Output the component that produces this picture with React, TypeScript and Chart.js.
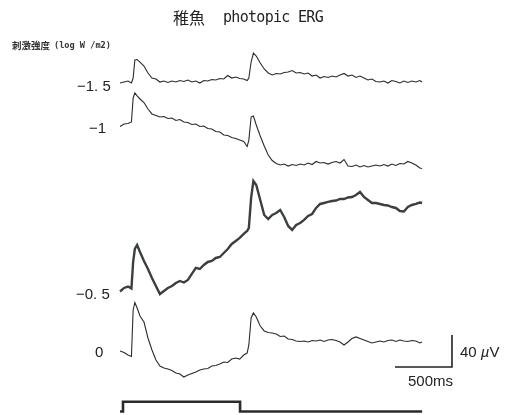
import React, { useEffect, useRef } from "react";
import { Chart, registerables } from "chart.js";

Chart.register(...registerables);

// time grid of the recordings (ms from start of sweep)
const TIME_MS = [
  0, 35, 70, 100, 115, 130, 150, 175, 210, 245,
  280, 315, 350, 385, 420, 455, 490, 525, 560, 595, 630, 665, 700, 735, 770, 805, 840, 875, 910, 945, 980, 1015, 1050, 1085,
  1115, 1130, 1150, 1170, 1195,
  1230, 1265, 1300, 1335, 1370, 1405, 1440, 1475, 1510, 1545, 1580, 1615, 1650, 1685, 1720, 1755, 1790, 1825, 1860, 1895, 1930,
  1965, 2000, 2035, 2070, 2105, 2140, 2175, 2210, 2245, 2280, 2315, 2350, 2385, 2420, 2455, 2490, 2525, 2560, 2595, 2630,
  2650,
];

// stimulus intensities (log W/m2)
const INTENSITY_LABELS = ["−1. 5", "−1", "−0. 5", "0"];

// responses in µV relative to each trace's pre-stimulus baseline
const TRACE_M15 = [
  -0.6, 0.6, 1.9, -0.6, 5.6, 28.1, 28.8, 25.6, 20.6, 11.9,
  5.6, 4.4, 0.6, 1.9, 0, 1.9, 0.6, 2.5, 1.3, 3.1, 0.6, 1.9, -0.6, 2.5, 1.9, 3.8, 3.1, 5, 4.4, 8.8, 5.6, 6.9, 5, 4.4,
  2.5, 5.6, 25.6, 36.9, 33.1,
  24.4, 16.9, 11.9, 9.4, 11.3, 10.6, 12.5, 13.1, 15, 11.9, 12.5, 10.6, 11.9, 8.1, 9.4, 5.6, 7.5, 6.3, 8.1, 6.9, 9.4,
  11.3, 8.1, 9.4, 6.3, 8.1, 5.6, 3.1, 4.4, 1.3, 0.6, 1.9, -0.6, 2.5, 1.3, -0.6, 1.9, 0, 1.9, 0.6, 2.5,
  0.6,
];

const TRACE_M10 = [
  -1.9, 1.3, 1.9, 3.8, 33.8, 40, 36.3, 32.5, 28.1, 20,
  13.8, 11.9, 10, 10.6, 8.1, 8.8, 5.6, 6.9, 3.8, 3.1, 0.6, 1.3, -1.9, -1.3, -4.4, -5, -8.1, -8.8, -12.5, -13.1, -15.6, -16.9, -18.8, -20.6,
  -26.9, -18.8, 10, 11.3, 0,
  -13.8, -26.3, -37.5, -44.4, -48.1, -50, -48.8, -51.3, -49.4, -50.6, -48.8, -50, -47.5, -49.4, -45.6, -47.5, -46.9, -48.8, -46.9, -45.6, -47.5,
  -43.1, -51.3, -51.9, -50, -52.5, -50.6, -52.5, -51.3, -50, -51.3, -49.4, -51.3, -48.8, -50.6, -48.1, -48.8, -45.6, -47.5, -50, -53.8,
  -54.4,
];

const TRACE_M05 = [
  -3.1, 1.3, 3.1, 0.6, 33.8, 50, 55, 46.3, 35, 25,
  13.8, 3.8, -6.3, -2.5, 1.3, 3.8, 7.5, 10, 8.1, 11.3, 18.8, 26.3, 25, 30, 33.8, 35, 38.8, 40, 45, 50, 56.3, 60, 63.8, 68.8,
  72.5, 76.3, 113.8, 135, 130,
  111.3, 92.5, 87.5, 92.5, 95, 98.8, 90, 78.8, 73.8, 80, 82.5, 86.3, 91.3, 93.8, 101.3, 106.3, 107.5, 108.8, 110, 110.6, 112.5,
  112.5, 114.4, 115, 117.5, 121.3, 115, 111.3, 107.5, 107.5, 106.3, 105, 104.4, 102.5, 101.3, 97.5, 96.9, 102.5, 105, 106.3, 108.1,
  107.5,
];

const TRACE_0 = [
  1.3, -0.6, -3.8, -5.6, 52.5, 61.9, 55, 45, 37.5, 17.5,
  2.5, -10, -17.5, -20, -21.3, -23.1, -26.3, -27.5, -31.3, -28.8, -26.9, -25, -22.5, -21.3, -20.6, -17.5, -16.9, -15, -12.5, -13.1, -8.8, -7.5, -8.8, -3.8,
  -1.3, 8.8, 42.5, 48.8, 43.8,
  32.5, 26.3, 24.4, 23.8, 22.5, 19.4, 20, 16.3, 15.6, 13.8, 13.1, 13.8, 12.5, 14.4, 13.8, 15, 13.1, 15, 15.6, 14.4, 12.5,
  8.8, 12.5, 16.9, 18.8, 16.9, 15, 13.1, 11.3, 12.5, 13.8, 12.5, 14.4, 15, 13.1, 15, 13.8, 13.1, 14.4, 13.8, 11.3,
  12.5,
];

// stimulus marker (light on / off)
const STIM_TIMES = [0, 26, 26, 1053, 1053, 2650];
const STIM_STATE = [0, 0, 1, 1, 0, 0];

// calibration bar
const CAL_MS = 500;
const CAL_UV = 40;

export default function App() {
  const ref = useRef<HTMLCanvasElement | null>(null);

  useEffect(() => {
    document.body.style.margin = "0";
    const canvas = ref.current;
    if (!canvas) return;

    // layout (vertical placement of traces on the page, µV units)
    const offsets = [415.6, 362.5, 157.5, 78.75];
    const traces = [TRACE_M15, TRACE_M10, TRACE_M05, TRACE_0];
    const widths = [1.1, 1.1, 2.4, 1.1];
    const colors = ["#2b2b2b", "#2b2b2b", "#3a403c", "#2b2b2b"];
    const stimBase = 4.4;
    const stimHeight = 12.2;
    const calCornerX = 2912;
    const calCornerY = 60;

    const datasets: any[] = traces.map((vals, k) => ({
      label: INTENSITY_LABELS[k],
      data: TIME_MS.map((t, i) => ({ x: t, y: offsets[k] + vals[i] })),
      borderColor: colors[k],
      borderWidth: widths[k],
      pointRadius: 0,
      tension: 0,
      fill: false,
    }));

    datasets.push({
      label: "stimulus",
      data: STIM_TIMES.map((t, i) => ({ x: t, y: stimBase + STIM_STATE[i] * stimHeight })),
      borderColor: "#2b2b2b",
      borderWidth: 2.6,
      pointRadius: 0,
      tension: 0,
      fill: false,
    });

    datasets.push({
      label: "calibration",
      data: [
        { x: calCornerX - CAL_MS, y: calCornerY },
        { x: calCornerX, y: calCornerY },
        { x: calCornerX, y: calCornerY + CAL_UV },
      ],
      borderColor: "#222",
      borderWidth: 1.6,
      pointRadius: 0,
      tension: 0,
      fill: false,
    });

    const chart = new Chart(canvas, {
      type: "line",
      data: { datasets },
      options: {
        responsive: false,
        animation: false,
        layout: { padding: 0 },
        plugins: { legend: { display: false }, tooltip: { enabled: false }, title: { display: false } },
        scales: {
          x: { type: "linear", display: false, min: -1053, max: 3421 },
          y: { type: "linear", display: false, min: 0, max: 518.75 },
        },
      },
    });
    return () => chart.destroy();
  }, []);

  const num: React.CSSProperties = {
    position: "absolute",
    fontFamily: "'Liberation Sans Narrow', 'Liberation Sans', Arial, sans-serif",
    fontSize: 15,
    lineHeight: "15px",
    color: "#222",
    whiteSpace: "pre",
  };

  return (
    <div style={{ position: "absolute", left: 0, top: 0, width: 510, height: 415, background: "#fff", overflow: "hidden" }}>
      <canvas ref={ref} width={510} height={415} style={{ position: "absolute", left: 0, top: 0 }} />
      <span style={{ position: "absolute", left: 173, top: 7, fontFamily: "'Noto Sans CJK JP', sans-serif", fontSize: 16, lineHeight: "20px", color: "#222" }}>稚魚</span>
      <span style={{ position: "absolute", left: 223, top: 7, fontFamily: "'DejaVu Sans Mono', monospace", fontSize: 15, letterSpacing: -0.7, lineHeight: "20px", color: "#222" }}>photopic ERG</span>
      <span style={{ position: "absolute", left: 12, top: 39, fontFamily: "'Noto Sans CJK JP', sans-serif", fontSize: 9.5, fontWeight: 700, lineHeight: "12px", color: "#333" }}>刺激強度</span>
      <span style={{ position: "absolute", left: 54, top: 39, fontFamily: "'DejaVu Sans Mono', monospace", fontSize: 8.6, fontWeight: 700, lineHeight: "12px", color: "#333", whiteSpace: "pre" }}>(log W /m2)</span>
      <span style={{ ...num, left: 77, top: 78 }}>{INTENSITY_LABELS[0]}</span>
      <span style={{ ...num, left: 89, top: 120 }}>{INTENSITY_LABELS[1]}</span>
      <span style={{ ...num, left: 76, top: 286 }}>{INTENSITY_LABELS[2]}</span>
      <span style={{ ...num, left: 95, top: 344 }}>{INTENSITY_LABELS[3]}</span>
      <span style={{ ...num, left: 460, top: 344 }}>
        40 <i>µ</i>V
      </span>
      <span style={{ ...num, left: 408, top: 373 }}>500ms</span>
    </div>
  );
}
